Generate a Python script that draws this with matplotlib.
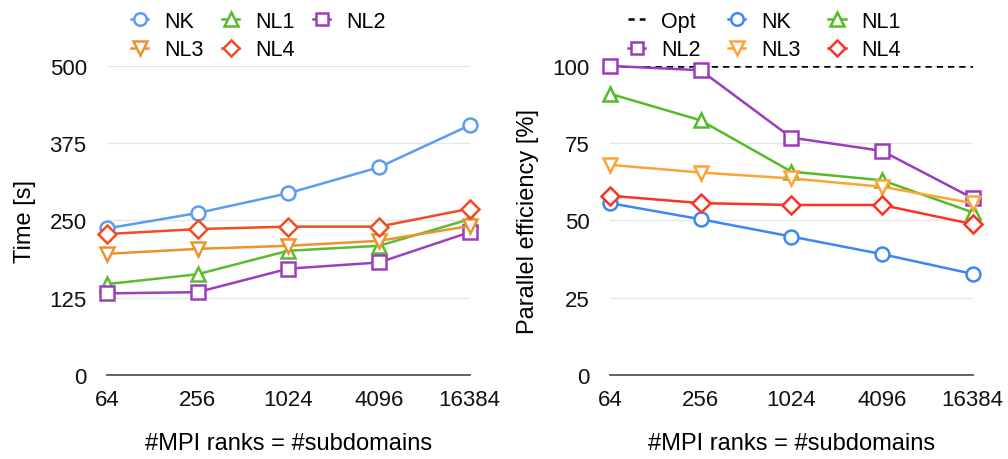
import matplotlib
matplotlib.use("Agg")
import matplotlib.pyplot as plt

plt.rcParams['font.family'] = ['Liberation Sans', 'DejaVu Sans']

ranks = ["64", "256", "1024", "4096", "16384"]

# Wall-clock time [s]
time_nk = [237, 262, 294, 336, 404]
time_nl1 = [147, 163, 201, 209, 252]
time_nl2 = [132, 134, 172, 182, 231]
time_nl3 = [196, 204, 209, 217, 241]
time_nl4 = [228, 236, 240, 240, 269]

# Parallel efficiency [%]
eff_opt = [100, 100, 100, 100, 100]
eff_nk = [55.6, 50.4, 44.8, 39.1, 32.7]
eff_nl1 = [91.0, 82.4, 65.8, 63.0, 52.6]
eff_nl2 = [100.0, 98.6, 76.8, 72.5, 57.2]
eff_nl3 = [68.0, 65.5, 63.6, 60.9, 55.6]
eff_nl4 = [58.0, 55.6, 55.0, 55.0, 48.8]

time_ticks = [0, 125, 250, 375, 500]
eff_ticks = [0, 25, 50, 75, 100]

left_colors = {"NK": "#5b9cf2", "NL1": "#5cbb2e", "NL2": "#9a3fbd",
               "NL3": "#ea9330", "NL4": "#f24d22"}
right_colors = {"NK": "#3d86f7", "NL1": "#55bb27", "NL2": "#9a3cbd",
                "NL3": "#fda534", "NL4": "#fc3322"}
markers = {"NK": "o", "NL1": "^", "NL2": "s", "NL3": "v", "NL4": "D"}
msizes = {"NK": 10, "NL1": 10.5, "NL2": 9.5, "NL3": 10.5, "NL4": 9}

fig = plt.figure(figsize=(10.08, 4.6), dpi=100)
ax1 = fig.add_axes([0.106, 0.1826, 0.360, 0.672])
ax2 = fig.add_axes([0.605, 0.1826, 0.360, 0.672])

x = list(range(len(ranks)))


def style(ax, ticks, ylabel):
    ax.set_xlim(0, len(ranks) - 1)
    ax.set_ylim(ticks[0], ticks[-1])
    ax.set_yticks(ticks)
    ax.set_xticks(x)
    ax.set_xticklabels(ranks)
    for s in ("top", "right", "left"):
        ax.spines[s].set_visible(False)
    ax.spines["bottom"].set_color("#555555")
    ax.spines["bottom"].set_linewidth(1.3)
    ax.tick_params(length=0, labelsize=16, colors="#111111")
    ax.tick_params(axis="x", pad=10)
    ax.tick_params(axis="y", pad=14.5)
    ax.grid(axis="y", color="#e6e6e6", linewidth=1)
    ax.set_axisbelow(True)
    ax.set_ylabel(ylabel, fontsize=17)
    ax.yaxis.set_label_coords(-0.195, 0.5)
    ax.set_xlabel("#MPI ranks = #subdomains", fontsize=17, labelpad=16)


def series(ax, name, vals, colors):
    return ax.plot(x, vals, color=colors[name], lw=1.8, marker=markers[name],
                   ms=msizes[name], mfc="white", mec=colors[name], mew=1.8,
                   clip_on=False, zorder=3, label=name)[0]


legend_kw = dict(ncol=3, loc="upper left", bbox_transform=fig.transFigure,
                 frameon=False, fontsize=15.5, handlelength=0.8,
                 handletextpad=0.74, labelspacing=0.34, markerscale=0.9,
                 borderpad=0, borderaxespad=0)

style(ax1, time_ticks, "Time [s]")
h = {}
for name, vals in [("NK", time_nk), ("NL1", time_nl1), ("NL2", time_nl2),
                   ("NL3", time_nl3), ("NL4", time_nl4)]:
    h[name] = series(ax1, name, vals, left_colors)
order = ["NK", "NL3", "NL1", "NL4", "NL2"]
ax1.legend([h[k] for k in order], order, bbox_to_anchor=(131 / 1008, 1 - 12 / 460),
           columnspacing=0.86, **legend_kw)

style(ax2, eff_ticks, "Parallel efficiency [%]")
g = {}
g["Opt"] = ax2.plot(x, eff_opt, color="black", ls=(0, (2.5, 2.0)), lw=1.8,
                    zorder=2, label="Opt")[0]
for name, vals in [("NK", eff_nk), ("NL1", eff_nl1), ("NL2", eff_nl2),
                   ("NL3", eff_nl3), ("NL4", eff_nl4)]:
    g[name] = series(ax2, name, vals, right_colors)
order2 = ["Opt", "NL2", "NK", "NL3", "NL1", "NL4"]
ax2.legend([g[k] for k in order2], order2, bbox_to_anchor=(628 / 1008, 1 - 12 / 460),
           columnspacing=1.28, **legend_kw)

fig.savefig("out.png", dpi=100)
